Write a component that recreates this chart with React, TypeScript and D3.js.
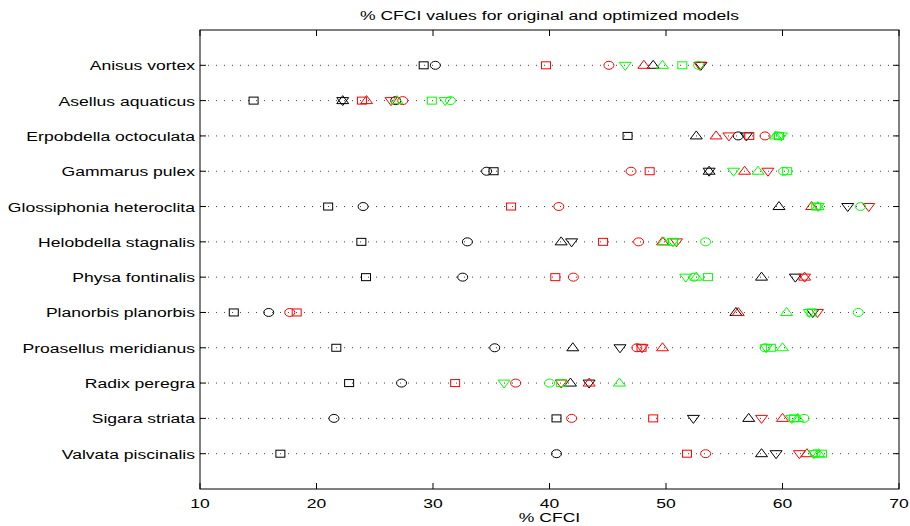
import React from "react";
import * as d3 from "d3";

const species = [
  "Anisus vortex",
  "Asellus aquaticus",
  "Erpobdella octoculata",
  "Gammarus pulex",
  "Glossiphonia heteroclita",
  "Helobdella stagnalis",
  "Physa fontinalis",
  "Planorbis planorbis",
  "Proasellus meridianus",
  "Radix peregra",
  "Sigara striata",
  "Valvata piscinalis",
];

const xTicks = [10, 20, 30, 40, 50, 60, 70];

// % CFCI per species, one array per marker/colour combination
const blackSquare = [29.2, 14.6, 46.7, 35.2, 21.0, 23.85, 24.25, 12.9, 21.7, 22.8, 40.6, 16.9];
const blackCircle = [30.2, 26.8, 56.2, 34.6, 24.0, 32.95, 32.55, 15.9, 35.3, 27.3, 21.5, 40.6];
const blackUp = [48.9, 22.25, 52.6, 53.7, 59.7, 41.0, 58.2, 56.0, 42.0, 41.8, 57.1, 58.2];
const blackDown = [53.0, 22.25, 56.9, 53.7, 65.6, 41.9, 61.1, 62.6, 46.05, 43.4, 52.35, 59.45];
const redSquare = [39.7, 23.9, 57.15, 48.6, 36.7, 44.6, 40.5, 18.3, 47.9, 31.9, 48.9, 51.8];
const redCircle = [45.1, 27.4, 58.5, 47.0, 40.8, 47.65, 42.05, 17.7, 47.5, 37.1, 41.9, 53.4];
const redUp = [48.1, 24.3, 54.3, 56.75, 62.5, 49.7, 61.9, 56.2, 49.7, 43.4, 60.0, 62.1];
const redDown = [52.9, 26.4, 55.4, 58.75, 67.4, 50.9, 61.9, 63.0, 47.95, 41.0, 58.2, 61.45];
const greenSquare = [51.4, 29.9, 59.7, 60.4, 62.9, 50.6, 53.6, 62.5, 59.0, 41.0, 61.0, 63.4];
const greenCircle = [52.8, 31.5, 59.6, 60.1, 66.7, 53.4, 52.4, 66.5, 58.5, 40.0, 61.85, 62.8];
const greenUp = [49.7, 26.9, 59.4, 57.9, 63.05, 49.8, 52.6, 60.35, 60.0, 46.0, 61.3, 63.1];
const greenDown = [46.5, 31.05, 59.9, 55.8, 63.05, 50.6, 51.7, 62.3, 58.6, 36.1, 60.8, 62.7];

type Shape = "square" | "circle" | "up" | "down";

const series: { values: number[]; shape: Shape; color: string }[] = [
  { values: blackSquare, shape: "square", color: "#000000" },
  { values: blackCircle, shape: "circle", color: "#000000" },
  { values: blackUp, shape: "up", color: "#000000" },
  { values: blackDown, shape: "down", color: "#000000" },
  { values: redSquare, shape: "square", color: "#ff0000" },
  { values: redCircle, shape: "circle", color: "#ff0000" },
  { values: redUp, shape: "up", color: "#ff0000" },
  { values: redDown, shape: "down", color: "#ff0000" },
  { values: greenSquare, shape: "square", color: "#00ff00" },
  { values: greenCircle, shape: "circle", color: "#00ff00" },
  { values: greenUp, shape: "up", color: "#00ff00" },
  { values: greenDown, shape: "down", color: "#00ff00" },
];

const W = 910;
const H = 526;
const left = 200;
const right = 899;
const top = 30;
const bottom = 489;
const font = "'Liberation Sans', Arial, Helvetica, sans-serif";
const FS = 13.5;
const SX = 1.3; // horizontal stretch of the figure's lettering

function Label({ x, y, anchor, children }: { x: number; y: number; anchor: string; children: React.ReactNode }) {
  return (
    <text
      transform={`translate(${x},${y}) scale(${SX},1)`}
      textAnchor={anchor}
      fontSize={FS}
      fill="#000"
    >
      {children}
    </text>
  );
}

function Marker({ shape, x, y, color }: { shape: Shape; x: number; y: number; color: string }) {
  const common = { fill: "none", stroke: color, strokeWidth: 1 };
  if (shape === "square") return <rect x={x - 4.5} y={y - 3.5} width={9} height={7} {...common} />;
  if (shape === "circle") return <ellipse cx={x} cy={y} rx={5} ry={4} {...common} />;
  if (shape === "up")
    return <path d={`M${x},${y - 5}L${x + 6},${y + 3}L${x - 6},${y + 3}Z`} {...common} />;
  return <path d={`M${x},${y + 5}L${x + 6},${y - 3}L${x - 6},${y - 3}Z`} {...common} />;
}

export default function App() {
  const x = d3.scaleLinear().domain([10, 70]).range([left, right]);
  const y = d3.scaleLinear().domain([0, species.length + 1]).range([top, bottom]);

  return (
    <svg
      width={W}
      height={H}
      style={{ position: "absolute", left: 0, top: 0, background: "#fff" }}
      fontFamily={font}
    >
      <rect x={0} y={0} width={W} height={H} fill="#fff" />
      {/* dotted row guides */}
      {species.map((s, i) => (
        <line
          key={`g${s}`}
          x1={left}
          x2={right}
          y1={y(i + 1)}
          y2={y(i + 1)}
          stroke="#444"
          strokeWidth={1}
          strokeDasharray="1 7"
        />
      ))}
      {/* markers */}
      {series.map((ser, si) =>
        ser.values.map((v, i) => (
          <Marker key={`m${si}-${i}`} shape={ser.shape} x={x(v)} y={y(i + 1)} color={ser.color} />
        ))
      )}
      {/* axes box */}
      <rect x={left} y={top} width={right - left} height={bottom - top} fill="none" stroke="#000" strokeWidth={1} />
      {xTicks.map((t) => (
        <g key={`xt${t}`}>
          <line x1={x(t)} x2={x(t)} y1={bottom} y2={bottom - 6} stroke="#000" />
          <line x1={x(t)} x2={x(t)} y1={top} y2={top + 6} stroke="#000" />
          <Label x={x(t)} y={508} anchor="middle">
            {t}
          </Label>
        </g>
      ))}
      {species.map((s, i) => (
        <g key={`yt${s}`}>
          <line x1={left} x2={left + 6} y1={y(i + 1)} y2={y(i + 1)} stroke="#000" />
          <line x1={right} x2={right - 6} y1={y(i + 1)} y2={y(i + 1)} stroke="#000" />
          <Label x={195} y={y(i + 1) + 5} anchor="end">
            {s}
          </Label>
        </g>
      ))}
      <Label x={(left + right) / 2} y={20} anchor="middle">
        % CFCI values for original and optimized models
      </Label>
      <Label x={(left + right) / 2} y={522} anchor="middle">
        % CFCI
      </Label>
    </svg>
  );
}
